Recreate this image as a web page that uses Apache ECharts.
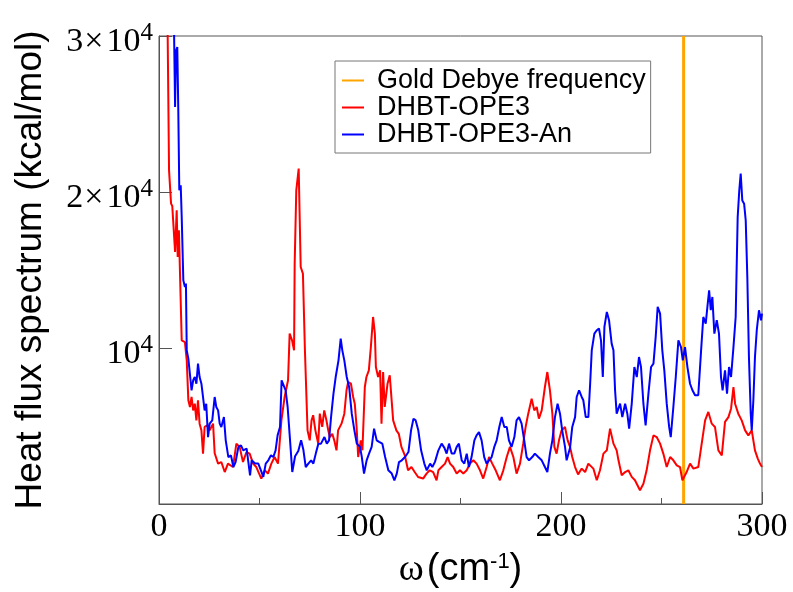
<!DOCTYPE html>
<html><head><meta charset="utf-8">
<script src="https://cdn.jsdelivr.net/npm/echarts@6/dist/echarts.min.js"></script>
<style>html,body{margin:0;padding:0;background:#fff}#c{width:793px;height:592px}</style>
</head><body><div id="c"></div>
<script>
// ---- data ----
const seriesNames = ['Gold Debye frequency', 'DHBT-OPE3', 'DHBT-OPE3-An'];
const xTickValues = [0, 100, 200, 300];
const yTickValues = [10000, 20000, 30000];
const yTickMantissa = ['', '2', '3'];
const yTickExponent = '4';
const debyeFrequency = 261;
const debyeSpan = [0, 30000];

const redData = [
[4.0,34000],[5.0,21390],[6.0,19255],[6.6,19100],[8.0,16150],[8.8,18830],[9.3,15830],[9.9,17540],
[11.3,10490],[12.9,10380],[13.8,9210],[14.6,6650],[15.4,6220],[16.2,6860],[17.0,6000],[17.8,6430],
[18.6,5360],[19.4,6650],[20.2,5150],[21.1,4720],[21.9,3230],[22.7,4940],[24.0,5040],[25.2,4720],
[26.9,5150],[27.7,3250],[29.4,2590],[31.0,2690],[32.7,2050],[34.3,2590],[36.8,2370],[38.5,3870],
[40.1,3660],[41.8,2690],[43.5,3330],[45.1,3230],[46.8,2590],[48.4,2370],[50.9,1630],[52.6,2160],
[54.2,1950],[55.9,2590],[57.5,3010],[59.2,2590],[60.9,5360],[62.5,6860],[64.2,7930],[65.0,10920],
[66.2,10490],[67.2,9850],[67.5,15410],[68.3,20110],[69.5,21500],[70.5,15190],[71.6,14770],[72.6,9850],
[73.9,4720],[75.0,4080],[75.9,5360],[76.7,5690],[77.8,4720],[79.2,3870],[80.0,5790],[81.2,4940],
[82.2,6000],[83.3,5360],[84.2,4720],[85.0,4290],[86.2,4500],[87.2,4080],[88.3,3440],[89.1,4720],
[90.8,5150],[92.2,5790],[93.3,7290],[94.1,7820],[95.5,7710],[96.6,6860],[97.4,6430],[98.3,4940],
[99.1,3010],[100.4,4080],[101.2,3440],[102.4,7500],[103.2,8140],[104.4,8570],[105.4,10060],[106.5,11990],
[107.4,10920],[107.9,8780],[109.0,8140],[110.0,8570],[110.7,5150],[111.5,8460],[112.3,6220],[113.7,7710],
[114.8,8250],[115.6,8140],[116.5,5360],[117.3,5360],[118.1,4720],[119.3,4500],[120.6,3660],[122.3,3120],
[123.9,2160],[125.6,2370],[127.2,2050],[128.9,1730],[131.4,1630],[133.1,1950],[134.7,2160],[136.4,2050],
[138.1,1520],[139.0,2160],[140.6,2370],[142.3,2590],[143.6,3010],[144.8,2590],[146.4,2370],[148.1,1950],
[149.7,2160],[151.4,1950],[153.1,2160],[154.7,2590],[156.4,2800],[158.0,2590],[159.7,2160],[161.3,1630],
[163.0,2370],[164.2,3010],[165.8,2590],[167.5,2160],[169.6,1520],[171.3,2160],[173.0,3010],[174.6,3660],
[176.3,3010],[177.9,1950],[179.6,2590],[181.2,3870],[182.4,4940],[183.7,5790],[185.4,6750],[186.7,6000],
[187.9,6220],[189.0,5470],[190.4,6000],[192.0,7500],[193.2,8460],[194.5,7290],[195.7,5790],[196.7,3660],
[197.8,3230],[199.0,4080],[200.3,4720],[202.0,4940],[203.3,4080],[204.5,3660],[205.6,3010],[207.0,2370],
[208.5,1900],[210.3,2270],[212.0,2050],[213.6,2590],[216.1,2270],[217.8,1520],[219.4,2160],[221.1,3230],
[222.8,3440],[224.4,4830],[226.1,3870],[227.7,3440],[228.6,2800],[230.2,1840],[231.9,2050],[233.5,2160],
[235.2,1740],[236.8,1520],[239.3,880],[241.0,1300],[242.6,2160],[244.3,3440],[246.0,4400],[247.6,4290],
[249.3,3870],[250.9,3230],[252.6,2370],[254.3,3010],[255.9,2800],[257.6,2480],[259.2,2370],[260.4,1520],
[262.5,2050],[264.2,2590],[265.9,2270],[268.3,2370],[270.0,3870],[271.7,5360],[273.3,5900],[275.0,5150],
[276.6,4940],[278.3,3440],[280.0,3120],[281.6,5260],[283.3,5570],[284.6,6110],[285.8,7500],[286.6,6430],
[288.2,5790],[289.9,5360],[291.6,4720],[293.2,4400],[294.9,4720],[296.5,3440],[297.9,2910],[299.0,2590],
[300.0,2370]
];

const blueData = [
[7.2,33000],[8.0,25450],[8.5,29070],[9.1,29290],[9.6,25240],[10.1,20110],[10.8,20430],[11.3,18400],
[12.1,14340],[12.9,13910],[13.4,14130],[13.8,9850],[14.6,9320],[15.4,9210],[16.2,7290],[17.0,7930],
[17.8,8140],[18.6,7710],[19.4,9000],[20.2,8140],[21.1,7710],[22.7,6000],[23.5,6430],[24.4,4290],
[25.2,5150],[26.5,5360],[27.7,6860],[28.5,6220],[29.4,6000],[30.2,5150],[31.0,4940],[32.3,5570],
[33.2,4080],[34.5,3010],[35.8,3120],[37.0,2370],[38.1,2690],[39.5,3660],[40.8,3760],[41.9,3440],
[43.6,3550],[45.3,1840],[46.1,2800],[47.8,2590],[49.4,2590],[50.7,2160],[51.9,1740],[53.1,2590],
[54.4,2800],[55.7,3120],[56.9,3010],[58.0,3440],[59.0,4400],[60.2,4940],[61.0,7930],[61.9,8030],
[63.0,7290],[64.0,6220],[65.2,4080],[66.3,2050],[67.7,3060],[69.3,3400],[70.7,4080],[71.8,3500],
[73.0,2370],[74.3,2590],[75.7,2800],[76.8,2590],[78.0,3230],[79.3,3870],[80.6,3870],[82.3,4290],
[83.5,3870],[84.6,4080],[85.6,5570],[86.8,7070],[87.9,8140],[89.3,9210],[90.4,10600],[91.2,9850],
[92.2,9210],[93.4,8140],[94.6,7500],[95.9,5790],[97.2,4720],[98.4,3870],[100.0,3660],[100.9,3010],
[102.0,1950],[103.3,2800],[104.5,3230],[105.8,3660],[107.0,4830],[108.3,4080],[109.5,3980],[111.1,3870],
[112.5,3010],[114.1,2160],[115.8,1950],[117.1,1520],[118.3,1950],[119.4,2690],[120.8,2800],[122.4,3010],
[124.1,3330],[125.4,4720],[126.6,5470],[127.7,5360],[129.0,4720],[130.4,3440],[132.0,2590],[133.2,2160],
[134.9,2590],[136.0,2370],[137.3,2700],[139.0,3440],[140.6,3870],[142.0,3600],[143.1,3230],[144.3,3870],
[145.6,3230],[146.9,3230],[148.1,3660],[149.2,3870],[150.6,2800],[151.9,2590],[153.1,3230],[154.2,2370],
[155.5,3010],[156.9,4080],[158.0,4400],[159.2,4610],[160.5,4080],[161.8,3010],[163.0,2590],[164.2,2800],
[165.5,3010],[166.8,3660],[168.0,4080],[169.3,4940],[170.5,5570],[171.8,4940],[173.0,4940],[174.1,4080],
[175.4,3660],[176.8,4290],[177.9,5360],[179.1,5570],[180.4,5150],[181.7,4080],[182.9,3010],[184.1,2800],
[185.7,3010],[187.0,3230],[188.7,3010],[190.4,2800],[192.0,2370],[193.2,2050],[194.5,3230],[195.7,4080],
[197.0,5570],[198.3,6430],[199.5,5790],[200.6,4720],[202.0,3660],[202.8,2800],[203.5,2700],[204.5,3600],
[205.6,4940],[207.0,5570],[207.8,6860],[209.0,7290],[210.3,6860],[211.1,6650],[212.3,5570],[213.6,5570],
[214.5,7710],[215.3,9850],[216.6,10920],[217.8,11140],[218.9,11250],[219.9,10490],[220.8,8140],[221.6,11350],
[222.8,12310],[223.9,11780],[225.2,10280],[226.1,9850],[226.9,7290],[227.7,5790],[229.4,6430],[230.5,5570],
[231.9,6430],[233.0,5790],[233.9,4830],[235.2,6430],[236.5,8780],[237.7,8140],[238.8,9420],[239.8,8780],
[241.0,6430],[242.1,5040],[243.5,7070],[244.8,8780],[246.0,9000],[247.1,10700],[248.1,12640],[249.3,12200],
[250.4,9850],[251.4,8570],[252.6,6430],[253.8,4940],[254.6,4290],[255.9,6220],[257.1,8140],[258.4,10490],
[259.7,10060],[260.6,9210],[261.7,10060],[262.9,8780],[264.2,7710],[265.4,7290],[266.7,6970],[268.3,6970],
[269.7,9850],[270.8,11990],[272.0,11560],[273.0,12850],[273.7,13700],[274.5,12420],[275.3,13270],[276.3,10920],
[277.5,11780],[278.6,10920],[279.6,8140],[280.4,7290],[281.6,8570],[282.6,7070],[283.6,8780],[284.6,8140],
[285.8,10060],[286.9,11990],[287.9,18400],[288.7,20110],[289.4,21180],[290.2,19460],[291.1,19250],[291.9,18180],
[292.7,14550],[293.5,9420],[294.4,5790],[294.9,4720],[295.7,6650],[296.5,9420],[297.4,11140],[298.5,12420],
[299.5,11780],[300.0,12200]
];

// ---- chart ----
const axisGrey = '#555';
const serif = 'Liberation Serif';
const sans = 'Liberation Sans';

const chart = echarts.init(document.getElementById('c'), null, {renderer: 'canvas'});
chart.setOption({
  animation: false,
  backgroundColor: '#fff',
  grid: {left: 159, right: 31, top: 36, bottom: 88, show: true, borderColor: axisGrey, borderWidth: 1,
         containLabel: false, outerBoundsMode: 'none'},
  legend: {
    orient: 'vertical', left: 335, top: 61,
    padding: [6, 5, 5, 7], itemGap: 0, itemWidth: 22, itemHeight: 2, icon: 'rect',
    borderColor: '#777', borderWidth: 1, backgroundColor: '#fff',
    textStyle: {fontFamily: sans, fontSize: 27, lineHeight: 26, color: '#000', padding: [0, 0, 0, 8]},
    data: seriesNames
  },
  xAxis: {
    type: 'value', min: xTickValues[0], max: xTickValues[xTickValues.length - 1],
    interval: xTickValues[1] - xTickValues[0],
    axisLine: {lineStyle: {color: axisGrey, width: 1}},
    axisTick: {inside: true, length: 12, lineStyle: {color: axisGrey}},
    minorTick: {show: true, splitNumber: 2, length: 6, lineStyle: {color: axisGrey}},
    splitLine: {show: false},
    axisLabel: {fontFamily: serif, fontSize: 34, color: '#000', margin: 6},
    name: '{w|ω}{p|(cm}{s|-1}{p|)}',
    nameLocation: 'middle', nameGap: 47,
    nameTextStyle: {
      rich: {
        w: {fontFamily: serif, fontSize: 38, color: '#000', padding: [0, 3, 0, 0], verticalAlign: 'bottom', lineHeight: 38},
        p: {fontFamily: sans, fontSize: 38, color: '#000', verticalAlign: 'bottom', lineHeight: 38},
        s: {fontFamily: sans, fontSize: 22, color: '#000', verticalAlign: 'top', lineHeight: 22, padding: [0, 0, 18, 0]}
      }
    }
  },
  yAxis: {
    type: 'value', min: 0, max: yTickValues[yTickValues.length - 1],
    interval: yTickValues[0],
    axisLine: {lineStyle: {color: axisGrey, width: 1}},
    axisTick: {inside: true, length: 13, lineStyle: {color: axisGrey}},
    splitLine: {show: false},
    axisLabel: {
      margin: 6,
      formatter: function (v) {
        const i = yTickValues.indexOf(v);
        if (i < 0) return '';
        const m = yTickMantissa[i];
        return (m ? '{b|' + m + '}{x|×}' : '') + '{b|10}{s|' + yTickExponent + '}';
      },
      padding: [3, 0, 0, 0],
      rich: {
        b: {fontFamily: serif, fontSize: 34, color: '#000', lineHeight: 34, padding: [10, 0, 0, 0]},
        x: {fontFamily: serif, fontSize: 34, color: '#000', lineHeight: 34, padding: [10, 3, 0, 1]},
        s: {fontFamily: serif, fontSize: 25, color: '#000', verticalAlign: 'top', lineHeight: 25}
      }
    },
    name: 'Heat flux spectrum (kcal/mol)',
    nameLocation: 'middle', nameGap: 110, nameRotate: 90,
    nameTextStyle: {fontFamily: sans, fontSize: 37, color: '#000'}
  },
  series: [
    {name: seriesNames[0], type: 'line', data: debyeSpan.map(v => [debyeFrequency, v]), symbol: 'none',
     color: '#ffa500', lineStyle: {color: '#ffa500', width: 3}, z: 1},
    {name: seriesNames[1], type: 'line', data: redData, symbol: 'none',
     color: '#ff0000', lineStyle: {color: '#ff0000', width: 2}, z: 2},
    {name: seriesNames[2], type: 'line', data: blueData, symbol: 'none',
     color: '#0000ff', lineStyle: {color: '#0000ff', width: 2}, z: 3}
  ]
});
</script>
</body></html>
